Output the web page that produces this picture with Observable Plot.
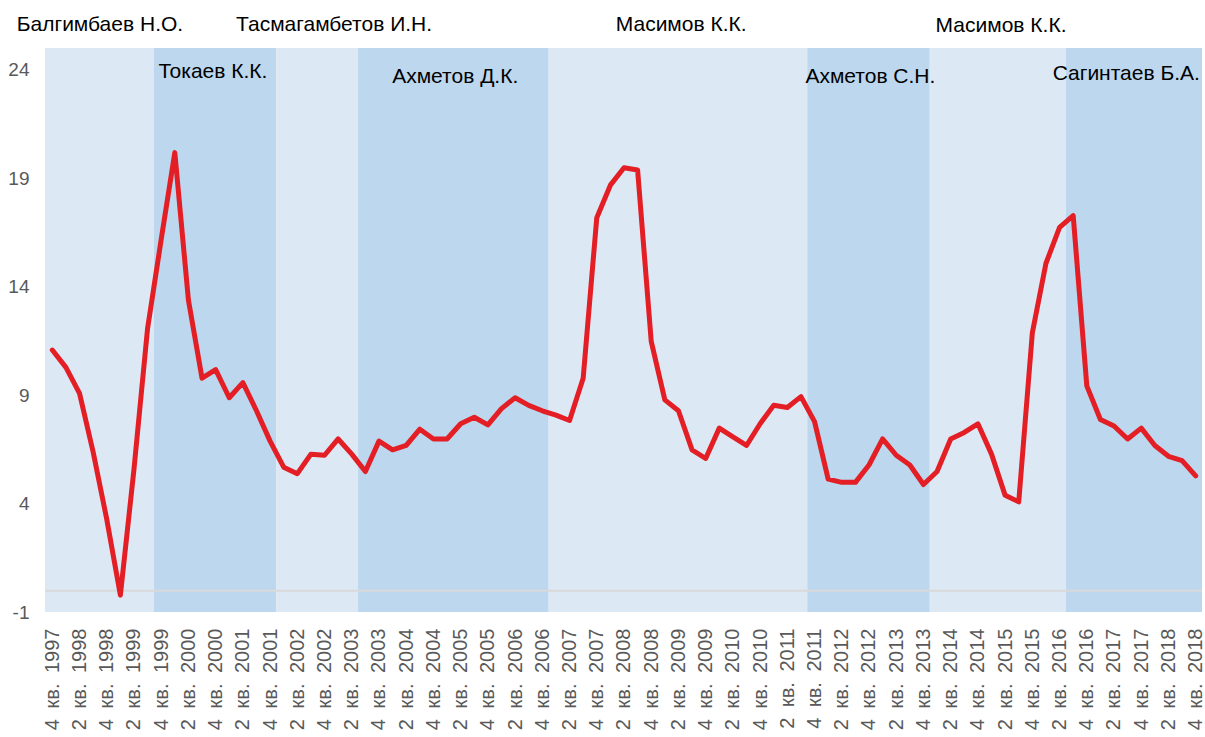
<!DOCTYPE html>
<html>
<head>
<meta charset="utf-8">
<script src="https://cdn.jsdelivr.net/npm/d3@7"></script>
<script src="https://cdn.jsdelivr.net/npm/@observablehq/plot@0.6"></script>
<style>
  html, body { margin: 0; padding: 0; background: #fff; }
  #chart svg { display: block; }
</style>
</head>
<body>
<div id="chart"></div>
<script>
// Quarter categories (4 кв. 1997 … 4 кв. 2018)
const quarters = [
  "4 кв. 1997",
  "1 кв. 1998","2 кв. 1998","3 кв. 1998","4 кв. 1998",
  "1 кв. 1999","2 кв. 1999","3 кв. 1999","4 кв. 1999",
  "1 кв. 2000","2 кв. 2000","3 кв. 2000","4 кв. 2000",
  "1 кв. 2001","2 кв. 2001","3 кв. 2001","4 кв. 2001",
  "1 кв. 2002","2 кв. 2002","3 кв. 2002","4 кв. 2002",
  "1 кв. 2003","2 кв. 2003","3 кв. 2003","4 кв. 2003",
  "1 кв. 2004","2 кв. 2004","3 кв. 2004","4 кв. 2004",
  "1 кв. 2005","2 кв. 2005","3 кв. 2005","4 кв. 2005",
  "1 кв. 2006","2 кв. 2006","3 кв. 2006","4 кв. 2006",
  "1 кв. 2007","2 кв. 2007","3 кв. 2007","4 кв. 2007",
  "1 кв. 2008","2 кв. 2008","3 кв. 2008","4 кв. 2008",
  "1 кв. 2009","2 кв. 2009","3 кв. 2009","4 кв. 2009",
  "1 кв. 2010","2 кв. 2010","3 кв. 2010","4 кв. 2010",
  "1 кв. 2011","2 кв. 2011","3 кв. 2011","4 кв. 2011",
  "1 кв. 2012","2 кв. 2012","3 кв. 2012","4 кв. 2012",
  "1 кв. 2013","2 кв. 2013","3 кв. 2013","4 кв. 2013",
  "1 кв. 2014","2 кв. 2014","3 кв. 2014","4 кв. 2014",
  "1 кв. 2015","2 кв. 2015","3 кв. 2015","4 кв. 2015",
  "1 кв. 2016","2 кв. 2016","3 кв. 2016","4 кв. 2016",
  "1 кв. 2017","2 кв. 2017","3 кв. 2017","4 кв. 2017",
  "1 кв. 2018","2 кв. 2018","3 кв. 2018","4 кв. 2018"
];

// Series values, one per quarter
const values = [
  11.1, 10.3, 9.1, 6.4, 3.3, -0.2, 5.6, 12.1, 16.2, 20.2,
  13.4, 9.8, 10.2, 8.9, 9.6, 8.3, 6.9, 5.7, 5.4, 6.3,
  6.25, 7.0, 6.3, 5.5, 6.9, 6.5, 6.7, 7.45, 7.0, 7.0,
  7.7, 8.0, 7.65, 8.4, 8.9, 8.55, 8.3, 8.1, 7.85, 9.8,
  17.2, 18.7, 19.5, 19.4, 11.5, 8.8, 8.3, 6.5, 6.1, 7.5,
  7.1, 6.7, 7.7, 8.55, 8.45, 8.95, 7.8, 5.15, 5.0, 5.0,
  5.8, 7.0, 6.25, 5.8, 4.9, 5.5, 7.0, 7.3, 7.7, 6.3,
  4.4, 4.1, 11.9, 15.1, 16.75, 17.3, 9.45, 7.9, 7.6, 7.0,
  7.5, 6.7, 6.2, 6.0, 5.3
];

// Prime ministers and the quarter each term band starts
const pmNames  = ["Балгимбаев Н.О.", "Токаев К.К.", "Тасмагамбетов И.Н.", "Ахметов Д.К.",
                  "Масимов К.К.", "Ахметов С.Н.", "Масимов К.К.", "Сагинтаев Б.А."];
const pmStarts = ["4 кв. 1997", "4 кв. 1999", "1 кв. 2002", "3 кв. 2003",
                  "1 кв. 2007", "4 кв. 2011", "1 кв. 2014", "3 кв. 2016"];

// Y axis tick values
const yTicks = [-1, 4, 9, 14, 19, 24];

// Label anchor points (data coordinates: quarter index, value)
const labelX = [3.5, 11.8, 20.7, 29.6, 46.2, 60.1, 69.7, 78.9];
const labelY = [26.1, 23.97, 26.1, 23.74, 26.1, 23.7, 26.05, 23.88];

// ---- build tables ----
const series = values.map((v, i) => ({i, v, q: quarters[i]}));
const bands = pmNames.map((name, k) => {
  const s = quarters.indexOf(pmStarts[k]);
  const e = k + 1 < pmStarts.length ? quarters.indexOf(pmStarts[k + 1]) : quarters.length;
  return {name, x1: s - 0.5, x2: e - 0.5, dark: k % 2 === 1};
});
const labels = pmNames.map((name, k) => ({name, x: labelX[k], y: labelY[k]}));
const xTicks = quarters.map((q, i) => i).filter(i => i % 2 === 0);

const chart = Plot.plot({
  width: 1205,
  height: 737,
  marginTop: 48,
  marginBottom: 125,
  marginLeft: 45,
  marginRight: 3,
  style: {fontFamily: "'Liberation Sans', Arial, sans-serif", color: "#595959", background: "#fff"},
  x: {type: "linear", domain: [-0.5, quarters.length - 0.5]},
  y: {domain: [-1, 25]},
  marks: [
    Plot.rect(bands, {x1: "x1", x2: "x2", y1: -1, y2: 25,
      fill: d => d.dark ? "#bdd7ee" : "#dde8f5"}),
    Plot.ruleY([0], {stroke: "#d9d9d9", strokeWidth: 2}),
    Plot.line(series, {x: "i", y: "v", stroke: "#e31e24", strokeWidth: 5,
      strokeLinejoin: "round", strokeLinecap: "round"}),
    Plot.axisY(yTicks, {tickSize: 0, tickPadding: 16, fontSize: 19, color: "#595959",
      tickFormat: d => String(d)}),
    Plot.axisX(xTicks, {tickSize: 0, tickPadding: 16, tickRotate: -90, fontSize: 20,
      color: "#595959", tickFormat: i => quarters[i]}),
    Plot.text(labels, {x: "x", y: "y", text: "name", fontSize: 21, fill: "#000",
      textAnchor: "middle", clip: false})
  ]
});
d3.select(chart).selectAll('g[aria-label="x-axis tick label"] text')
  .style("word-spacing", "5px");
document.getElementById("chart").appendChild(chart);
</script>
</body>
</html>
